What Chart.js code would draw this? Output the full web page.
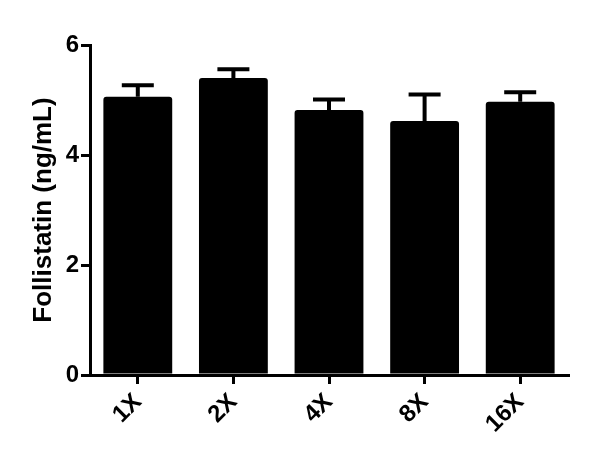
<!DOCTYPE html>
<html>
<head>
<meta charset="utf-8">
<script src="https://cdn.jsdelivr.net/npm/chart.js@4"></script>
<style>
  html, body { margin: 0; padding: 0; background: #fff; }
  #wrap { width: 600px; height: 464px; }
</style>
</head>
<body>
<div id="wrap"><canvas id="chart" width="600" height="464"></canvas></div>
<script>
// Follistatin by dilution
const groups = ['1X', '2X', '4X', '8X', '16X'];
const means = [5.06, 5.40, 4.82, 4.62, 4.97];
const sem = [0.21, 0.16, 0.19, 0.48, 0.17];
const yTicks = [0, 2, 4, 6];

// draws the upper error bar + cap on each bar
const errorBars = {
    id: 'errorBars',
    afterDatasetsDraw(chart) {
        const ctx = chart.ctx;
        const y = chart.scales.y;
        const meta = chart.getDatasetMeta(0);
        ctx.save();
        ctx.strokeStyle = '#000';
        ctx.lineWidth = 4;
        meta.data.forEach(function(bar, i) {
            const top = y.getPixelForValue(means[i] + sem[i]);
            const base = y.getPixelForValue(means[i]);
            ctx.beginPath();
            ctx.moveTo(bar.x, base);
            ctx.lineTo(bar.x, top);
            ctx.moveTo(bar.x - 16, top);
            ctx.lineTo(bar.x + 16, top);
            ctx.stroke();
        });
        ctx.restore();
    }
};

new Chart(document.getElementById('chart').getContext('2d'), {
    type: 'bar',
    data: {
        labels: groups,
        datasets: [{
            label: 'Follistatin',
            data: means,
            backgroundColor: '#000',
            borderRadius: 3,
            borderSkipped: 'bottom',
            barPercentage: 0.72,
            categoryPercentage: 1
        }]
    },
    options: {
        responsive: false,
        animation: false,
        layout: { padding: { top: 45, right: 32, left: 0, bottom: 0 } },
        plugins: { legend: { display: false }, tooltip: { enabled: false } },
        scales: {
            x: {
                grid: { display: true, drawOnChartArea: false, offset: false, tickLength: 9, color: '#000', lineWidth: 3 },
                border: { display: true, color: '#000', width: 3 },
                ticks: {
                    color: '#000', maxRotation: 45, minRotation: 45, padding: 4,
                    font: { family: 'Liberation Sans, Arial', size: 24, weight: 'bold' }
                },
                afterFit: function(scale) { scale.height = 89; }
            },
            y: {
                min: 0, max: 6,
                afterBuildTicks: function(scale) {
                    scale.ticks = yTicks.map(function(v) { return { value: v }; });
                },
                grid: { display: true, drawOnChartArea: false, tickLength: 9, color: '#000', lineWidth: 3 },
                border: { display: true, color: '#000', width: 3 },
                ticks: {
                    color: '#000', padding: 2,
                    font: { family: 'Liberation Sans, Arial', size: 24, weight: 'bold' }
                },
                title: {
                    display: true, text: 'Follistatin (ng/mL)', color: '#000',
                    padding: { top: 28, bottom: 0 },
                    font: { family: 'Liberation Sans, Arial', size: 26, weight: 'bold' }
                },
                afterFit: function(scale) { scale.width = 90; }
            }
        }
    },
    plugins: [errorBars]
});
</script>
</body>
</html>
